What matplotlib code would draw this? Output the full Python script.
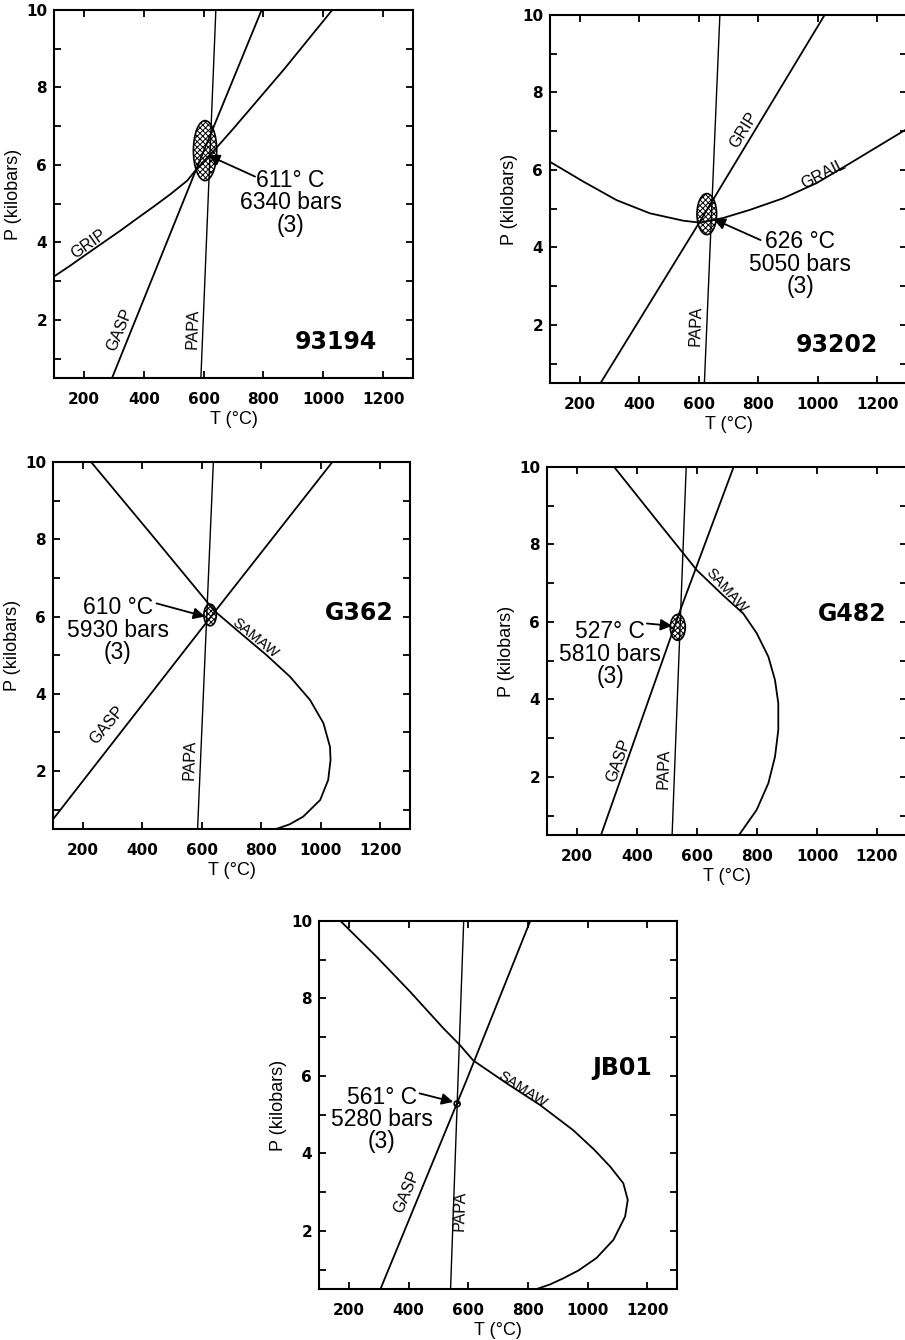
import matplotlib
matplotlib.use("Agg")
import matplotlib.pyplot as plt
from matplotlib.patches import Ellipse

plt.rcParams['hatch.linewidth'] = 0.7
plt.rcParams['axes.linewidth'] = 1.5

# --- datos comunes ---
t_ticks = [200, 400, 600, 800, 1000, 1200]
p_ticks = [2, 4, 6, 8, 10]
p_minor = [1, 3, 5, 7, 9]

# --- 93194 ---
a_papa_t = [591, 641]
a_papa_p = [0.5, 10]
a_gasp_t = [294, 575, 794]
a_gasp_p = [0.5, 5.88, 10]
a_grip_t = [100, 156, 211, 267, 323, 378, 434, 490, 546, 575, 646, 702, 869, 1030]
a_grip_p = [3.12, 3.41, 3.71, 4.01, 4.31, 4.62, 4.93, 5.25, 5.6, 5.88, 6.47, 6.96, 8.47, 10.0]

# --- 93202 ---
b_papa_t = [619, 671]
b_papa_p = [0.5, 10]
b_grip_t = [270, 600, 1023]
b_grip_p = [0.5, 4.62, 10]
b_grail_t = [100, 212, 324, 436, 548, 604, 682, 772, 884, 996, 1108, 1220, 1300]
b_grail_p = [6.21, 5.70, 5.22, 4.88, 4.69, 4.64, 4.76, 4.97, 5.27, 5.66, 6.17, 6.69, 7.06]

# --- G362 ---
c_papa_t = [586, 639]
c_papa_p = [0.5, 10]
c_gasp_t = [100, 622, 1039]
c_gasp_p = [0.75, 5.91, 10]
c_samaw_t = [228, 428, 622, 639, 718, 818, 897, 964, 1009, 1031, 1033, 1025, 998, 941, 895, 850]
c_samaw_p = [10, 8.15, 6.34, 6.17, 5.65, 5.0, 4.44, 3.84, 3.24, 2.63, 2.29, 1.77, 1.25, 0.82,
             0.62, 0.5]

# --- G482 ---
d_papa_t = [517, 564]
d_papa_p = [0.5, 10]
d_gasp_t = [280, 544, 722]
d_gasp_p = [0.5, 6.3, 10]
d_samaw_t = [324, 460, 599, 688, 754, 799, 838, 860, 871, 871, 860, 838, 799, 740]
d_samaw_p = [10, 8.68, 7.34, 6.68, 6.22, 5.71, 5.10, 4.50, 3.90, 3.21, 2.52, 1.84, 1.15, 0.5]

# --- JB01 ---
e_papa_t = [541, 585]
e_papa_p = [0.5, 10]
e_gasp_t = [306, 595, 808]
e_gasp_p = [0.5, 5.9, 10]
e_samaw_t = [172, 294, 406, 517, 572, 617, 729, 841, 952, 1022, 1076, 1120, 1135, 1126,
             1087, 1030, 970, 920, 875, 830]
e_samaw_p = [10, 9.07, 8.17, 7.23, 6.80, 6.40, 5.81, 5.25, 4.60, 4.10, 3.66, 3.23, 2.80, 2.37,
             1.77, 1.30, 0.98, 0.78, 0.62, 0.5]

# resultados (T, P, ancho, alto) de las elipses
elipses = {
    '93194': (605, 6.37, 78, 1.55),
    '93202': (627, 4.86, 66, 1.06),
    'G362': (628, 6.04, 42, 0.56),
    'G482': (536, 5.86, 50, 0.67),
    'JB01': (563, 5.28, 20, 0.15),
}
resultados = {
    '93194': '611° C\n6340 bars\n(3)',
    '93202': '626 °C\n5050 bars\n(3)',
    'G362': '610 °C\n5930 bars\n(3)',
    'G482': '527° C\n5810 bars\n(3)',
    'JB01': '561° C\n5280 bars\n(3)',
}

W, H = 905, 1340
fig = plt.figure(figsize=(W / 100, H / 100), dpi=100)


def nuevo_eje(l, t, r, b):
    ax = fig.add_axes([l / W, 1 - b / H, (r - l) / W, (b - t) / H])
    ax.set_xlim(100, 1300)
    ax.set_ylim(0.5, 10)
    ax.set_xticks(t_ticks)
    ax.set_yticks(p_ticks)
    ax.set_yticks(p_minor, minor=True)
    ax.tick_params(which='both', direction='in', top=True, right=True,
                   length=5, width=1.3, labelsize=11)
    ax.tick_params(axis='x', pad=10)
    ax.tick_params(axis='y', pad=5)
    for lab in ax.get_xticklabels() + ax.get_yticklabels():
        lab.set_fontweight('bold')
    ax.set_xlabel('T (°C)', fontsize=13, family='Liberation Sans', labelpad=3)
    ax.set_ylabel('P (kilobars)', fontsize=13, family='Liberation Sans', labelpad=3)
    return ax


def curva(ax, t, p, lw=1.3):
    ax.plot(t, p, color='k', lw=lw, solid_joinstyle='round')


def etiqueta(ax, x, y, s, rot, size=11.5):
    ax.text(x, y, s, rotation=rot, ha='center', va='center', fontsize=size,
            family='Liberation Sans', rotation_mode='anchor')


def resultado(ax, nombre, tx, ty, ax_t, ax_p, tip_t, tip_p):
    cx, cy, w, h = elipses[nombre]
    ax.add_patch(Ellipse((cx, cy), w, h, facecolor='none', edgecolor='k',
                         hatch='xxxxxx', lw=1.2, zorder=3))
    ax.annotate('', xy=(tip_t, tip_p), xytext=(ax_t, ax_p),
                arrowprops=dict(arrowstyle='-|>', color='k', lw=1.3,
                                mutation_scale=17, shrinkA=0, shrinkB=0), zorder=4)
    ax.text(tx, ty, resultados[nombre], ha='center', va='center', fontsize=16.5,
            family='Liberation Sans', linespacing=0.95)


def titulo(ax, x, y, s):
    ax.text(x, y, s, ha='center', va='center', fontsize=17, fontweight='bold')


# --- 93194 ---
ax = nuevo_eje(54, 10, 413, 378)
curva(ax, a_papa_t, a_papa_p, lw=1.0)
curva(ax, a_gasp_t, a_gasp_p)
curva(ax, a_grip_t, a_grip_p)
resultado(ax, '93194', 891, 5.02, 772, 5.70, 615, 6.25)
etiqueta(ax, 215, 3.95, 'GRIP', 35)
etiqueta(ax, 319, 1.74, 'GASP', 67)
etiqueta(ax, 563, 1.78, 'PAPA', 88)
titulo(ax, 1041, 1.44, '93194')

# --- 93202 ---
ax = nuevo_eje(550, 15, 907, 383)
curva(ax, b_papa_t, b_papa_p, lw=1.0)
curva(ax, b_grip_t, b_grip_p)
curva(ax, b_grail_t, b_grail_p)
resultado(ax, '93202', 942, 3.57, 808, 4.19, 650, 4.73)
etiqueta(ax, 750, 7.03, 'GRIP', 58)
etiqueta(ax, 1019, 5.9, 'GRAIL', 27)
etiqueta(ax, 589, 1.98, 'PAPA', 88)
titulo(ax, 1065, 1.47, '93202')

# --- G362 ---
ax = nuevo_eje(53, 462, 410, 829)
curva(ax, c_papa_t, c_papa_p, lw=1.0)
curva(ax, c_gasp_t, c_gasp_p)
curva(ax, c_samaw_t, c_samaw_p)
resultado(ax, 'G362', 318, 5.65, 448, 6.34, 611, 6.0)
etiqueta(ax, 281, 3.2, 'GASP', 50)
etiqueta(ax, 561, 2.3, 'PAPA', 88)
etiqueta(ax, 779, 5.44, 'SAMAW', -39, size=10.5)
titulo(ax, 1128, 6.1, 'G362')

# --- G482 ---
ax = nuevo_eje(547, 467, 907, 835)
curva(ax, d_papa_t, d_papa_p, lw=1.0)
curva(ax, d_gasp_t, d_gasp_p)
curva(ax, d_samaw_t, d_samaw_p)
resultado(ax, 'G482', 310, 5.17, 433, 5.96, 517, 5.9)
etiqueta(ax, 339, 2.43, 'GASP', 70)
etiqueta(ax, 489, 2.2, 'PAPA', 88)
etiqueta(ax, 700, 6.8, 'SAMAW', -48, size=10.5)
titulo(ax, 1117, 6.2, 'G482')

# --- JB01 ---
ax = nuevo_eje(319, 921, 677, 1289)
curva(ax, e_papa_t, e_papa_p, lw=1.0)
curva(ax, e_gasp_t, e_gasp_p)
curva(ax, e_samaw_t, e_samaw_p)
resultado(ax, 'JB01', 310, 4.88, 437, 5.55, 550, 5.33)
etiqueta(ax, 394, 3.0, 'GASP', 67)
etiqueta(ax, 572, 2.53, 'PAPA', 88)
etiqueta(ax, 783, 5.65, 'SAMAW', -33, size=10.5)
titulo(ax, 1117, 6.2, 'JB01')

fig.savefig('out.png', dpi=100)
